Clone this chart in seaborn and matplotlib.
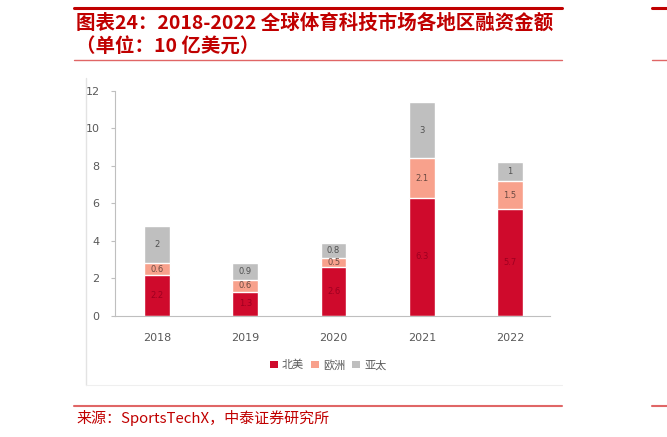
import matplotlib
matplotlib.use("Agg")
import matplotlib.pyplot as plt
from matplotlib.lines import Line2D
from matplotlib.patches import Patch
import numpy as np
import pandas as pd
import seaborn as sns

# data (unit: 10亿美元)
years = ["2018", "2019", "2020", "2021", "2022"]
north_america = [2.2, 1.3, 2.6, 6.3, 5.7]
europe = [0.6, 0.6, 0.5, 2.1, 1.5]
asia_pacific = [2.0, 0.9, 0.8, 3.0, 1.0]
series_names = ["北美", "欧洲", "亚太"]
europe_labels = ["0.6", "0.6", "0.5", "2.1", "1.5"]
asia_labels = ["2", "0.9", "0.8", "3", "1"]
na_labels = ["2.2", "1.3", "2.6", "6.3", "5.7"]
y_ticks = [0, 2, 4, 6, 8, 10, 12]

title_line1 = "图表24：2018-2022 全球体育科技市场各地区融资金额"
title_line2 = "（单位：10 亿美元）"
source_text = "来源：SportsTechX，中泰证券研究所"

colors = ["#CF0A2C", "#F8A18C", "#BFBFBF"]
dark_red = "#C00000"
light_red = "#E06666"

sns.set_theme(style="white")
plt.rcParams["font.family"] = ["Noto Sans CJK SC", "DejaVu Sans"]

df = pd.DataFrame({"year": years, "na": north_america, "eu": europe, "ap": asia_pacific})
df["na_eu"] = df["na"] + df["eu"]
df["total"] = df["na_eu"] + df["ap"]

fig = plt.figure(figsize=(6.67, 4.37), dpi=100)
ax = fig.add_axes([0.1724, 0.2769, 0.652, 0.5149])

# stacked bars drawn as cumulative layers, tallest first
for col, c in zip(["total", "na_eu", "na"], colors[::-1]):
    sns.barplot(data=df, x="year", y=col, color=c, width=0.29, ax=ax,
                edgecolor="white", linewidth=1.0, saturation=1, errorbar=None)

# segment labels
for i in range(len(years)):
    ax.text(i, df["na"][i] / 2, na_labels[i], ha="center", va="center",
            fontsize=6, color="#9E0020", family="DejaVu Sans")
    ax.text(i, df["na"][i] + df["eu"][i] / 2, europe_labels[i], ha="center", va="center",
            fontsize=6, color="#6B4A42", family="DejaVu Sans")
    ax.text(i, df["na_eu"][i] + df["ap"][i] / 2, asia_labels[i], ha="center", va="center",
            fontsize=6, color="#505050", family="DejaVu Sans")

ax.set_xlim(-0.476, 4.45)
ax.set_ylim(0, 12)
ax.set_yticks(y_ticks)
ax.set_xlabel("")
ax.set_ylabel("")
for s in ["top", "right"]:
    ax.spines[s].set_visible(False)
ax.spines["left"].set_color("#BFBFBF")
ax.spines["bottom"].set_color("#BFBFBF")
ax.spines["left"].set_linewidth(0.8)
ax.spines["bottom"].set_linewidth(0.8)
ax.tick_params(axis="y", left=True, length=3, width=0.8, color="#BFBFBF",
               labelsize=8, labelcolor="#595959", pad=8)
ax.tick_params(axis="x", bottom=False, labelsize=8, labelcolor="#595959", pad=6)
for lab in ax.get_xticklabels() + ax.get_yticklabels():
    lab.set_family("DejaVu Sans")

# legend
handles = [Patch(facecolor=c, edgecolor="none") for c in colors]
fig.legend(handles, series_names, loc="center", bbox_to_anchor=(0.492, 1 - 365 / 437),
           ncol=3, frameon=False, fontsize=8, labelcolor="#595959",
           handlelength=0.7, handleheight=0.7, handletextpad=0.4, columnspacing=0.6)

# frame of the embedded chart picture
fig.add_artist(Line2D([86 / 667, 86 / 667], [1 - 78 / 437, 1 - 385 / 437],
                      color="#E3E3E3", lw=1))
fig.add_artist(Line2D([86 / 667, 562 / 667], [1 - 385 / 437, 1 - 385 / 437],
                      color="#EFEFEF", lw=0.8))

# report decorations
fig.add_artist(Line2D([74 / 667, 562 / 667], [1 - 8 / 437] * 2, color=dark_red, lw=2.2))
fig.add_artist(Line2D([74 / 667, 562 / 667], [1 - 60 / 437] * 2, color=light_red, lw=1))
fig.add_artist(Line2D([74 / 667, 562 / 667], [1 - 406 / 437] * 2, color=light_red, lw=1.5))
fig.add_artist(Line2D([652 / 667, 1.0], [1 - 8 / 437] * 2, color=dark_red, lw=2.2))
fig.add_artist(Line2D([652 / 667, 1.0], [1 - 60 / 437] * 2, color=light_red, lw=1))
fig.add_artist(Line2D([652 / 667, 1.0], [1 - 406 / 437] * 2, color=light_red, lw=1.5))

fig.text(76 / 667, 1 - 23 / 437, title_line1, ha="left", va="center",
         fontsize=14, fontweight="bold", color=dark_red, style="italic")
fig.text(76 / 667, 1 - 47 / 437, title_line2, ha="left", va="center",
         fontsize=14, fontweight="bold", color=dark_red, style="italic")
fig.text(76 / 667, 1 - 418 / 437, source_text, ha="left", va="center",
         fontsize=10.8, color=dark_red)

fig.savefig("out.png", dpi=100)
